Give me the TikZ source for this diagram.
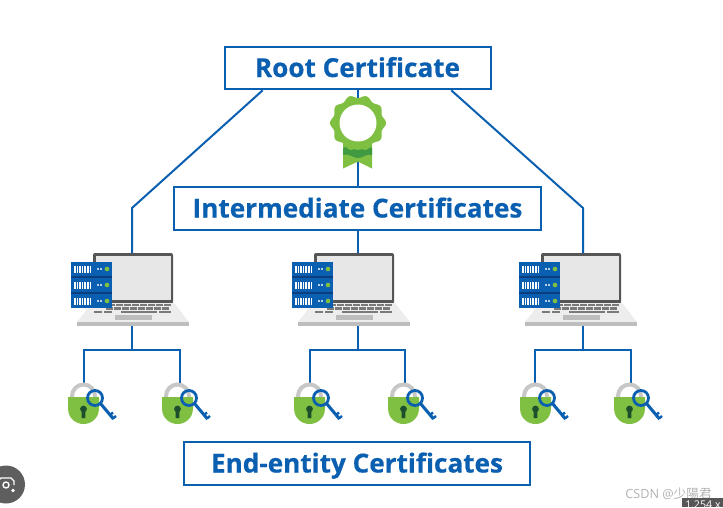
\documentclass[tikz,border=0pt]{standalone}
\usepackage{fontspec}
\setmainfont[BoldFeatures={FakeBold=0.5}]{Open Sans}
\newfontfamily\cjkfont{Noto Sans CJK SC}
\usepackage{xcolor}
\usetikzlibrary{positioning, calc}
\definecolor{certblue}{HTML}{0B5FB0}
\definecolor{darkblue}{HTML}{0A3F7F}
\definecolor{certgreen}{HTML}{7FBF41}
\definecolor{ribbongreen}{HTML}{3F9A42}
\definecolor{holegreen}{HTML}{1E4F2C}
\definecolor{framegray}{HTML}{565656}
\definecolor{screengray}{HTML}{E7E7E7}
\definecolor{basegray}{HTML}{EDEDED}
\definecolor{stripgray}{HTML}{BDBDBD}
\definecolor{keygray}{HTML}{7A7A7A}
\tikzset{
  certbox/.style={draw=certblue,line width=1.5pt,fill=white,text=certblue,inner sep=0pt,
    minimum height=32pt,text height=15.5pt,text depth=2pt,
    font=\fontsize{19.6}{22}\selectfont\bfseries},
  link/.style={draw=certblue,line width=1.5pt},
  rack/.pic={
    \fill[darkblue] (0,0) rectangle (41,46);
    \foreach \y in {0,16,32} {
      \fill[certblue] (0,\y) rectangle (41,\y+14);
      \foreach \x in {3,5.6,...,20} \fill[white] (\x,\y+3.5) rectangle +(1.6,7);
      \fill[white!70!certblue] (25.5,\y+6) rectangle +(2,2);
      \fill[white!70!certblue] (29,\y+6) rectangle +(2,2);
      \fill[certgreen] (36,\y+7) circle (2.3);
    }
  },
  laptop/.pic={
    % lid
    \fill[framegray,rounded corners=1.5pt] (93,253) rectangle (173,304);
    \fill[screengray] (96,256) rectangle (171,300);
    % base
    \fill[basegray] (92,303) -- (174,303) -- (189,322) -- (77,322) -- cycle;
    \fill[stripgray] (77,322) rectangle (189,326);
    % keys
    \foreach \x in {108,116,...,164} \fill[keygray] (\x,303.5) rectangle +(6.5,2.6);
    \foreach \x in {106,114,...,162} \fill[keygray] (\x,307) rectangle +(6.5,2.6);
    \fill[keygray] (94,310.5) rectangle +(8,2.6);
    \fill[keygray] (104,310.5) rectangle +(8,2.6);
    \fill[keygray] (121,310.5) rectangle +(36,2.6);
    \fill[keygray] (159,310.5) rectangle +(12,2.6);
    \fill[stripgray] (115,315) rectangle (152,320);
    % servers
    \pic at (71,262) {rack};
  },
  padlock/.pic={
    \draw[stripgray!85!white,line width=3pt] (-11.5,1) -- (-11.5,-1) arc (180:360:11.5) -- (11.5,1);
    \fill[certgreen] (-15.5,0) -- (15.5,0) -- (15.5,11) .. controls (15.5,22) and (7,27) .. (0,27)
      .. controls (-7,27) and (-15.5,22) .. (-15.5,11) -- cycle;
    \fill[holegreen] (0,12) circle (3.4);
    \fill[holegreen] (-2,13) -- (2,13) -- (1.8,21) -- (-1.8,21) -- cycle;
    % key
    \draw[certblue,line width=2.1pt] (11.5,1) circle (7.5);
    \draw[certblue,line width=2.3pt] (17,6.5) -- (30,22);
    \draw[certblue,line width=1.8pt] (26.5,18) -- (29.5,15.5);
    \draw[certblue,line width=1.8pt] (29.5,21.5) -- (32.5,19);
  }
}
\begin{document}
\begin{tikzpicture}[x=0.75pt,y=-0.75pt]
\useasboundingbox (0,0) rectangle (723,507);
% connection points
\coordinate (lapA) at (132,256);
\coordinate (lapB) at (357.5,256);
\coordinate (lapC) at (583,256);
\coordinate (lapAdown) at (132,325);
\coordinate (lapBdown) at (357.5,325);
\coordinate (lapCdown) at (583,325);
\foreach \name/\x in {lockA/84,lockB/180,lockC/310,lockD/405,lockE/535,lockF/631}
  \coordinate (\name) at (\x,385);

% boxes
\node[certbox,minimum width=199.5pt] (root) at (357.5,68) {Root Certificate};
\node[certbox,minimum width=275.5pt] (inter) at (357.5,208.5) {Intermediate Certificates};
\node[certbox,minimum width=259pt] (endent) at (357,463.5) {End-entity Certificates};

% lines from the root
\path[link] (root.south) -- (inter.north);
\path[link] ($(root.south west)!0.146!(root.south east)$) -- (132,208) -- (lapA);
\path[link] ($(root.south west)!0.85!(root.south east)$) -- (583,208) -- (lapC);
\path[link] (inter.south) -- (lapB);

% forks down to the locks
\path[link] (lapAdown) -- (132,350);
\path[link] (lockA) -- (84,350) -- (180,350) -- (lockB);
\path[link] (lapBdown) -- (357.5,350);
\path[link] (lockC) -- (310,350) -- (405,350) -- (lockD);
\path[link] (lapCdown) -- (583,350);
\path[link] (lockE) -- (535,350) -- (631,350) -- (lockF);

% badge
\fill[certgreen] (343,138) -- (372,138) -- (372,168.5) -- (358,161.5) -- (343,168.5) -- cycle;
\fill[ribbongreen] (343,148) .. controls (350,145) and (352,150) .. (358,150) .. controls (364,150) and (366,145) .. (372,148)
  -- (372,155) .. controls (366,153) and (364,158) .. (358,158) .. controls (352,158) and (350,153) .. (343,155) -- cycle;
\fill[certgreen,shift={(358,123)}] plot[domain=0:360,samples=121,smooth] (\x:{26.5+1.5*cos(10*\x)}) -- cycle;
\fill[white] (358,123) circle (18.5);

% laptops
\foreach \x in {0,221,448} \pic at (\x,0) {laptop};
% locks
\foreach \x in {83.5,177.5,309.5,403.5,535.5,629.5} \pic at (\x,397) {padlock};

% screenshot leftovers
\fill[framegray!95!white] (6,484.5) circle (19);
\draw[white,line width=1pt] (6,485) circle (3);
\draw[white,line width=1pt] (-2,488) -- (-2,481) -- (1,478) -- (11,478) -- (14,481) -- (14,485);
\fill[white] (13,490.5) circle (1.8);
\node[text=black!30,font=\fontsize{9.5}{10}\selectfont,anchor=east,inner sep=0pt] (mark) at (712,494) {CSDN @{\cjkfont 少陽君}};
\begin{scope}
\clip (682,498) rectangle (723,507);
\fill[framegray] (682,498) rectangle (723,507);
\node[text=white,font=\fontsize{8}{9}\selectfont,anchor=west,inner sep=0pt] (size) at (685,505) {1,254 x};
\end{scope}
\end{tikzpicture}
\end{document}
